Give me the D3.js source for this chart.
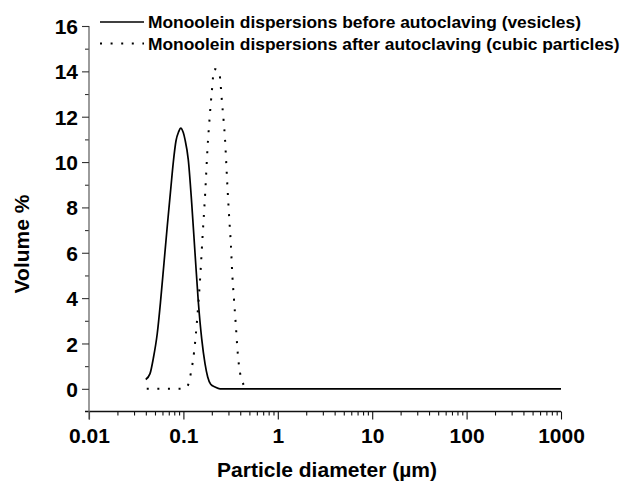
<!DOCTYPE html>
<html>
<head>
<meta charset="utf-8">
<script src="https://cdn.jsdelivr.net/npm/d3@7"></script>
<style>
  html, body { margin: 0; padding: 0; background: #fff; }
  svg { display: block; }
  text { font-family: "Liberation Sans", Arial, sans-serif; font-weight: bold; fill: #000; }
</style>
</head>
<body>
<svg id="chart" width="631" height="482"></svg>
<script>
// Particle size distribution (volume %) of monoolein dispersions
const seriesNames = [
  "Monoolein dispersions before autoclaving (vesicles)",
  "Monoolein dispersions after autoclaving (cubic particles)"
];

// Before autoclaving (vesicles): diameter in µm, volume %
const beforeDiameter = [0.0399, 0.0443, 0.0480, 0.0529, 0.0575, 0.0623, 0.0675, 0.0734, 0.0782, 0.0835,
  0.0892, 0.0936, 0.0997, 0.1039, 0.1127, 0.1224, 0.1327, 0.1438, 0.1563, 0.1694,
  0.1809, 0.1946, 0.2161, 0.2442, 1, 10, 100, 1000];
const beforeVolume = [0.41, 0.67, 1.34, 2.45, 3.93, 5.55, 7.18, 8.80, 10.0, 10.94,
  11.34, 11.5, 11.3, 11.0, 10.1, 8.2, 6.0, 3.85, 2.2, 1.11,
  0.52, 0.20, 0.08, 0, 0, 0, 0, 0];

// After autoclaving (cubic particles)
const afterDiameter = [0.0409, 0.06, 0.08, 0.10, 0.110, 0.120, 0.130, 0.140, 0.150, 0.160,
  0.170, 0.180, 0.190, 0.200, 0.212, 0.238, 0.258, 0.276, 0.292, 0.305,
  0.318, 0.330, 0.344, 0.358, 0.376, 0.405, 0.457, 0.50];
const afterVolume = [0, 0, 0, 0, 0.1, 0.7, 1.65, 3.1, 4.8, 6.8,
  8.6, 10.6, 12.0, 13.1, 14.1, 14.0, 12.5, 11.0, 9.0, 7.6,
  6.4, 5.0, 3.9, 2.9, 1.6, 0.55, 0.07, 0];

const xTicks = [0.01, 0.1, 1, 10, 100, 1000];
const xTickLabels = ["0.01", "0.1", "1", "10", "100", "1000"];
const yTicks = [0, 2, 4, 6, 8, 10, 12, 14, 16];
const yMinorTicks = [1, 3, 5, 7, 9, 11, 13, 15];

const svg = d3.select("#chart");

const x = d3.scaleLog().domain([0.01, 1000]).range([89, 561]);
const y = d3.scaleLinear().domain([-1, 16]).range([411.5, 26]);

// minor ticks 2..9 in each decade
const xMinorTicks = [];
for (let e = -2; e < 3; e++) {
  for (let m = 2; m <= 9; m++) xMinorTicks.push(m * Math.pow(10, e));
}

const labelFont = "'Liberation Sans', Arial, sans-serif";

// X axis: minor ticks, then major ticks with labels
const x0 = y.range()[0];
const gxMinor = svg.append("g").attr("transform", `translate(0,${x0})`)
  .call(d3.axisBottom(x).tickValues(xMinorTicks).tickSize(4).tickSizeOuter(0).tickFormat(""));
gxMinor.select(".domain").remove();
gxMinor.selectAll(".tick line").attr("stroke", "#111").attr("stroke-width", 1.1);

const gx = svg.append("g").attr("transform", `translate(0,${x0})`)
  .call(d3.axisBottom(x).tickValues(xTicks).tickSize(8).tickSizeOuter(0)
    .tickFormat((d, i) => xTickLabels[i]));
gx.select(".domain").attr("stroke", "#111").attr("stroke-width", 1.6)
  .attr("d", `M85,0H${x.range()[1]}`);
gx.selectAll(".tick line").attr("stroke", "#111").attr("stroke-width", 1.1);
gx.selectAll(".tick text").attr("y", 17).attr("dy", "0.71em")
  .style("font-size", "21px").style("font-family", labelFont).style("font-weight", "bold");

// Y axis: minor ticks, then major ticks with labels
const y0 = x.range()[0];
const gyMinor = svg.append("g").attr("transform", `translate(${y0},0)`)
  .call(d3.axisLeft(y).tickValues(yMinorTicks).tickSize(4).tickSizeOuter(0).tickFormat(""));
gyMinor.select(".domain").remove();
gyMinor.selectAll(".tick line").attr("stroke", "#333").attr("stroke-width", 1.1);

const gy = svg.append("g").attr("transform", `translate(${y0},0)`)
  .call(d3.axisLeft(y).tickValues(yTicks).tickSize(7).tickSizeOuter(0).tickFormat(d3.format("d")));
gy.select(".domain").attr("stroke", "#666").attr("stroke-width", 1.3)
  .attr("d", `M0,${y(16)}V${y.range()[0] + 8}`);
gy.selectAll(".tick line").attr("stroke", "#333").attr("stroke-width", 1.1);
gy.selectAll(".tick text").attr("x", -11).attr("dy", "0.36em")
  .style("font-size", "21px").style("font-family", labelFont).style("font-weight", "bold");

// Axis titles
svg.append("text").attr("x", 327).attr("y", 477).attr("text-anchor", "middle")
  .style("font-size", "21px").text("Particle diameter (µm)");
svg.append("text").attr("transform", "translate(28.5,244) rotate(-90)")
  .attr("text-anchor", "middle").style("font-size", "21px").text("Volume %");

// Curves
const line = d3.line().x(d => x(d[0])).y(d => y(d[1])).curve(d3.curveMonotoneX);
const before = d3.zip(beforeDiameter, beforeVolume);
const after = d3.zip(afterDiameter, afterVolume);

svg.append("path").datum(after).attr("d", line)
  .attr("fill", "none").attr("stroke", "#000").attr("stroke-width", 2)
  .attr("stroke-dasharray", "2,8.6");
svg.append("path").datum(before).attr("d", line)
  .attr("fill", "none").attr("stroke", "#000").attr("stroke-width", 1.7)
  .attr("stroke-linejoin", "round");

// Legend
const legend = svg.append("g");
const legendRows = [
  { name: seriesNames[0], y: 22, dash: null, width: 1.7 },
  { name: seriesNames[1], y: 43.5, dash: "2,8.6", width: 2 }
];
legendRows.forEach(r => {
  legend.append("line").attr("x1", 100).attr("x2", 144).attr("y1", r.y).attr("y2", r.y)
    .attr("stroke", "#000").attr("stroke-width", r.width)
    .attr("stroke-dasharray", r.dash);
  legend.append("text").attr("x", 148).attr("y", r.y + 6.3).style("font-size", "17.4px").text(r.name);
});
</script>
</body>
</html>
